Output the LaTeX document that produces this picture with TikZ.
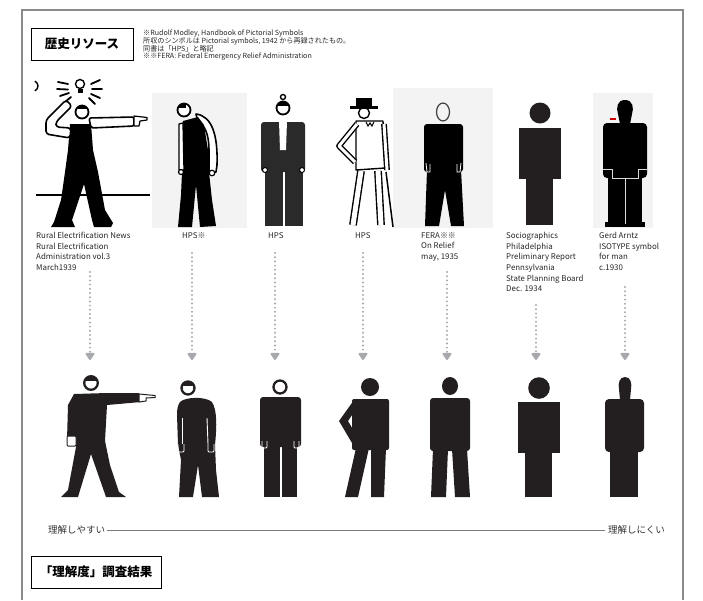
\documentclass[tikz,border=0pt]{standalone}
\usepackage{fontspec}
\setmainfont{Noto Sans CJK JP}
\usetikzlibrary{arrows.meta}
\definecolor{ink}{HTML}{231F20}
\definecolor{suit}{HTML}{2A2A2A}
\definecolor{framegray}{HTML}{8A8A8A}
\definecolor{arrowgray}{HTML}{A7A9AC}
\definecolor{photobg}{HTML}{F3F3F3}
\definecolor{scalegray}{HTML}{7A7A7A}

\begin{document}
\begin{tikzpicture}[x=1pt,y=-1pt,
  captext/.style={anchor=north west, inner sep=0pt, font=\fontsize{7.9}{10.7}\selectfont, align=left, text=black!85},
  note/.style={anchor=west, inner sep=0pt, font=\fontsize{7.1}{7.6}\selectfont, text=black!85},
  titlebox/.style={draw=black, line width=0.9pt, inner sep=0pt, font=\fontsize{12.5}{14}\selectfont\bfseries},
  scalelabel/.style={inner sep=0pt, font=\fontsize{9.5}{11}\selectfont, text=black!80},
  outl/.style={draw=black, line width=1.6pt, fill=white, line join=round, line cap=round},
  dbl/.style={draw=black, line width=1.4pt, double=white, double distance=3pt, line join=round},
  headring/.style={draw=ink, line width=2.3pt, fill=white},
  flow/.style={draw=arrowgray, line width=2.2pt, line cap=round, dash pattern=on 0pt off 4.2pt,
    -{Triangle[width=10pt,length=8pt,round=false]}},
]
\useasboundingbox (0,0) rectangle (703,600);

% outer frame, open at the bottom
\draw[framegray, line width=1.5pt] (22,600) -- (22,10) -- (683,10) -- (683,600);

% heading boxes
\node[titlebox, minimum width=102pt, minimum height=32pt] (hist) at (82,44) {歴史リソース};
\node[titlebox, minimum width=130pt, minimum height=32pt] (survey) at (96,572) {「理解度」調査結果};

% reference notes
\node[note] (n1) at (143,33.5) {※Rudolf Modley, Handbook of Pictorial Symbols};
\node[note] (n2) at (143,41.2) {所収のシンボルは Pictorial symbols, 1942 から再録されたもの。};
\node[note] (n3) at (143,48.9) {同書は「HPS」と略記};
\node[note] (n4) at (143,56.6) {※※FERA: Federal Emergency Relief Administration};

% ---------- historical figures ----------
% photo backgrounds
\fill[photobg] (152,93) rectangle (247,228);
\fill[photobg] (393,88) rectangle (493,228);
\fill[photobg] (593,93) rectangle (653,228);

% 1: Rural Electrification
\draw[line width=1.3pt] (36,195) -- (150,195);
\draw[line width=1.4pt] (35,81) .. controls (39,84) and (39,88) .. (35,91);
\draw[line width=1.4pt, fill=white] (80,84) circle[radius=4.5pt];
\fill (77.5,88.5) rectangle (82.5,93);
\draw[line width=1.8pt, line cap=round]
  (58,82) -- (68,84) (57,89) -- (68,89.5) (60,96) -- (69,93) (65,102) -- (71,97)
  (91,84) -- (100,80) (92,89) -- (102,89) (91,94) -- (100,98) (89,98) -- (95,104);
\fill (70,124) -- (91,124) -- (93,150) -- (98,172) -- (105,210) -- (113,223) -- (111,227)
  -- (94,227) -- (92,220) -- (84,184) -- (72,220) -- (75,227) -- (51,227) -- (54,222)
  -- (61,200) -- (65,172) -- (68,150) -- cycle;
\draw[outl, rounded corners=3pt] (66,100) -- (46,120) -- (46,134) -- (70,138) -- (71,128)
  -- (56,127) -- (56,122) -- (72,106) -- cycle;
\draw[outl, rounded corners=2pt] (89,118) -- (134,117) -- (134,126) -- (91,128) -- cycle;
\draw[outl, line width=1.2pt] (134,116) -- (147,117.5) -- (147,120) -- (140,121) -- (139,126) -- (134,126) -- cycle;
\draw[outl, line width=1.8pt] (82,112) circle[radius=6.5pt];
\begin{scope}
  \clip (82,112) circle[radius=6.5pt];
  \fill (70,100) rectangle (95,109);
\end{scope}

% 2: HPS, stooping man
\draw[outl] (196,114) .. controls (212,116) and (218,135) .. (217,165) -- (216,172)
  -- (209,172) -- (209,150) .. controls (209,135) and (205,125) .. (198,122) -- cycle;
\fill (183,121) -- (198,117) -- (204,125) -- (208,150) -- (209,172) -- (212,200) -- (216,226)
  -- (200,227) -- (196,185) -- (192,227) -- (178,227) -- (181,195) -- (182,172) -- cycle;
\draw[outl, line width=1.3pt] (179,124) -- (183,123) -- (184,170) -- (179,170) -- cycle;
\draw[outl, line width=1.2pt] (181,172) circle[radius=2.5pt];
\draw[outl, line width=1.2pt] (212,173) circle[radius=2.8pt];
\draw[outl, line width=1.8pt] (184,110) circle[radius=6.5pt];
\begin{scope}
  \clip (184,110) circle[radius=6.5pt];
  \fill (170,96) rectangle (186,108);
\end{scope}

% 3: HPS, man in a suit
\fill[suit, rounded corners=3pt] (261,122) rectangle (305,172);
\fill[white] (279,121) -- (287,121) -- (286,150) -- (280,150) -- cycle;
\fill[suit] (265,170) rectangle (282.5,226);
\fill[suit] (285,170) rectangle (303,226);
\draw[black, fill=white, line width=1pt] (265,170) circle[radius=2.5pt];
\draw[black, fill=white, line width=1pt] (302,170) circle[radius=2.5pt];
\draw[black, line width=1.4pt, fill=white] (283,97) circle[radius=2.5pt];
\draw[outl, line width=1.8pt] (283,108) circle[radius=6.5pt];
\begin{scope}
  \clip (283,108) circle[radius=6.5pt];
  \fill (270,95) rectangle (296,106);
\end{scope}

% 4: HPS, man with hat and cane
\draw[line width=1.5pt] (386,172) -- (393,227);
\draw[dbl, double distance=5pt] (361,171) -- (353,225);
\draw[dbl, double distance=5pt] (378,171) -- (381,225);
\draw[outl, line width=1.4pt] (356,121) -- (383,121) -- (385,168) -- (356,170) -- cycle;
\draw[dbl] (357,124) -- (339,146) -- (355,162);
\draw[dbl] (384,124) -- (387,170);
\draw[outl, line width=1.4pt] (364,113) circle[radius=5.5pt];
\fill (356,98) rectangle (372,106);
\fill (350,106) rectangle (378,108.5);
\draw[line width=1pt] (366,122) -- (368,126) -- (370,123) -- (372,126) -- (374,122);

% 5: FERA, On Relief
\fill[rounded corners=3pt] (424,124) rectangle (463,172);
\fill (427,170) -- (461,170) -- (464,226) -- (451,226) -- (445,190) -- (439,226) -- (425,226) -- cycle;
\draw[white, line width=0.8pt] (426,163) -- (427,172) -- (430,172) -- (430,164);
\draw[white, line width=0.8pt] (461,163) -- (460,172) -- (457,172) -- (457,164);
\draw[black!75, line width=1.2pt] (443,112) ellipse[x radius=6.5pt, y radius=9pt];

% 6: Sociographics
\fill[ink] (540,113) circle[radius=10.5pt];
\fill[ink] (519,128) rectangle (561,179);
\fill[ink] (526,179) rectangle (553,225);

% 7: Gerd Arntz, ISOTYPE
\fill (625,100) .. controls (633,100) and (634,108) .. (632,114) -- (630,124) -- (620,124)
  -- (618,114) .. controls (616,108) and (617,100) .. (625,100) -- cycle;
\fill[rounded corners=4pt] (603,123) rectangle (647,178);
\fill (608,177) rectangle (642,224);
\fill (605,222) rectangle (645,227);
\draw[white!85!black, line width=0.6pt] (603,169) -- (612,169) -- (612,178) -- (638,178) -- (638,169) -- (647,169);
\draw[white!85!black, line width=0.6pt] (625,178) -- (625,224);
\fill[red!80!black] (610,118) rectangle (616,119.5);

% ---------- captions ----------
\node[captext] (c1) at (36,232) {Rural Electrification News\\Rural Electrification\\Administration vol.3\\March1939};
\node[captext] (c2) at (182,232) {HPS※};
\node[captext] (c3) at (268,232) {HPS};
\node[captext] (c4) at (355,232) {HPS};
\node[captext] (c5) at (421,232) {FERA※※\\On Relief\\may, 1935};
\node[captext] (c6) at (506,232) {Sociographics\\Philadelphia\\Preliminary Report\\Pennsylvania\\State Planning Board\\Dec. 1934};
\node[captext] (c7) at (599,232) {Gerd Arntz\\ISOTYPE symbol\\for man\\c.1930};

% ---------- redrawn figures ----------
% 1
\fill[ink] (74,394) -- (107,393) -- (139,393) -- (141,402) -- (107,405) -- (105,441) -- (110,465)
  -- (119,492) -- (126,497) -- (106,497) -- (91,454) -- (78,497) -- (61,497) -- (68,490)
  -- (76,447) -- (75,442) -- (74,440) -- (67,440) -- (68,405) -- cycle;
\draw[ink, line width=1pt, fill=white] (139,394) -- (155,395.5) -- (155,397.5) -- (146,398) -- (146,401) -- (139,402) -- cycle;
\draw[ink, line width=1pt, fill=white, rounded corners=1pt] (67,436) rectangle (76,446);
\draw[headring] (91,383) circle[radius=6.8pt];
\begin{scope}
  \clip (91,383) circle[radius=6.8pt];
  \fill[ink] (80,372) rectangle (102,381);
\end{scope}

% 2
\fill[ink] (180,402) .. controls (185,397) and (205,396) .. (212,402) .. controls (217,410) and (217,425) .. (215,445)
  -- (216,470) -- (219,497) -- (202,497) -- (198,465) -- (193,497) -- (179,497) -- (181,460)
  -- (178,445) -- (177,415) .. controls (177,408) and (178,405) .. (180,402) -- cycle;
\draw[white, line width=0.9pt] (182,418) -- (182,444);
\draw[white, line width=0.9pt] (207,418) -- (208,444);
\draw[white, line width=0.8pt, rounded corners=1pt] (178,444) -- (178,452) -- (184,452) -- (184,444);
\draw[white, line width=0.8pt, rounded corners=1pt] (208,444) -- (208,452) -- (214,452) -- (214,444);
\draw[headring] (188,388) circle[radius=6.5pt];
\begin{scope}
  \clip (188,388) circle[radius=6.5pt];
  \fill[ink] (178,378) rectangle (198,386);
\end{scope}

% 3
\fill[ink, rounded corners=3pt] (260,397) rectangle (301,447);
\fill[ink] (264,445) rectangle (279.5,497);
\fill[ink] (281.5,445) rectangle (297,497);
\draw[white, line width=0.8pt, rounded corners=1pt] (262,441) -- (262,448) -- (267,448) -- (267,441);
\draw[white, line width=0.8pt, rounded corners=1pt] (294,441) -- (294,448) -- (299,448) -- (299,441);
\draw[headring] (280,387) circle[radius=6.5pt];

% 4
\fill[ink] (370,387) circle[radius=9pt];
\fill[ink, rounded corners=2pt] (352,399) rectangle (389,450);
\fill[ink] (354,400) -- (339,421) -- (352,443) -- (358,438) -- (348,421) -- (356,409) -- cycle;
\fill[ink] (356,448) -- (369,448) -- (358,497) -- (345,497) -- cycle;
\fill[ink] (371,448) -- (386,448) -- (384,497) -- (371,497) -- cycle;

% 5
\fill[ink] (450,386) ellipse[x radius=8pt, y radius=9pt];
\fill[ink, rounded corners=3pt] (430,398) rectangle (470,451);
\fill[ink] (433,449) -- (448,449) -- (446,497) -- (431,497) -- cycle;
\fill[ink] (452,449) -- (467,449) -- (470,497) -- (455,497) -- cycle;

% 6
\fill[ink] (539,388) circle[radius=10.8pt];
\fill[ink] (518,402) rectangle (560,453);
\fill[ink] (525,453) rectangle (552,497);

% 7
\fill[ink] (625,377) .. controls (631,377) and (632,384) .. (631,389) -- (630,400) -- (620,400)
  -- (619,389) .. controls (618,384) and (619,377) .. (625,377) -- cycle;
\fill[ink, rounded corners=4pt] (605,399) rectangle (644,452);
\fill[ink] (610,450) rectangle (638,497);

% ---------- dotted arrows ----------
\foreach \i/\x/\ys in {1/90/272, 2/192/253, 3/275/253, 4/363/253, 5/447/272, 6/536/305, 7/625/287}{
  \coordinate (s\i) at (\x,\ys);
  \coordinate (e\i) at (\x,360);
  \draw[flow] (s\i) -- (e\i);
}

% ---------- comprehension scale ----------
\node[scalelabel, anchor=west] (easy) at (48,530) {理解しやすい};
\node[scalelabel, anchor=east] (hard) at (665,530) {理解しにくい};
\draw[scalegray, line width=1pt] ([xshift=1.5pt]easy.east) -- ([xshift=-2.5pt]hard.west);

\end{tikzpicture}
\end{document}
